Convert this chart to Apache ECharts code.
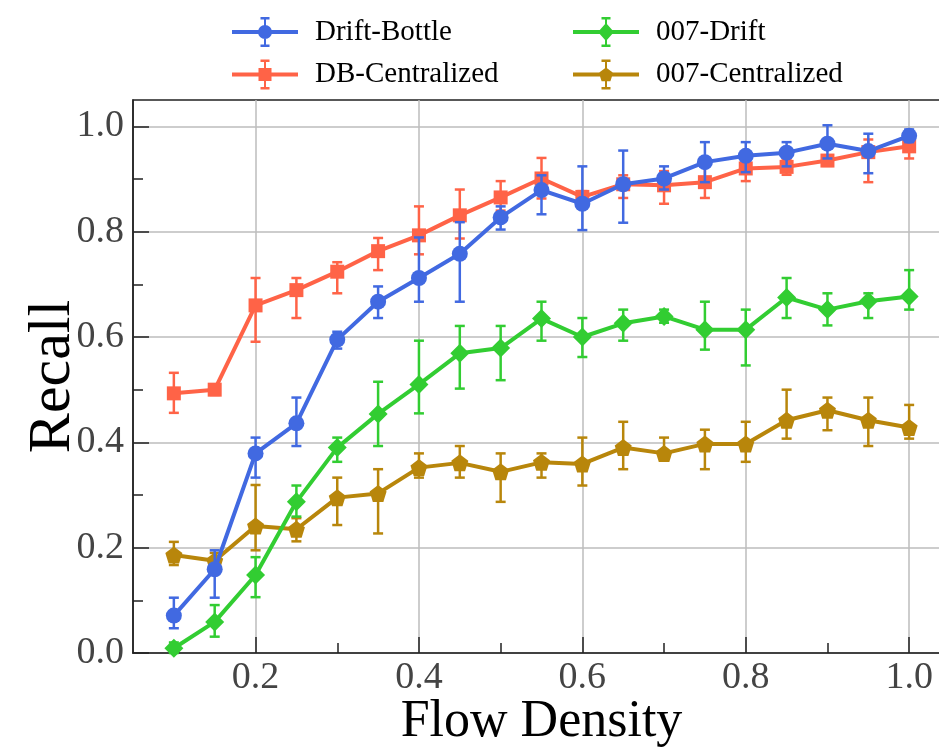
<!DOCTYPE html>
<html>
<head>
<meta charset="utf-8">
<script src="https://cdn.jsdelivr.net/npm/echarts@6/dist/echarts.min.js"></script>
<style>html,body{margin:0;padding:0;background:#fff;}#chart{width:939px;height:750px;}</style>
</head>
<body>
<div id="chart"></div>
<script>
// ---- data ----
const xs = [0.1,0.15,0.2,0.25,0.3,0.35,0.4,0.45,0.5,0.55,0.6,0.65,0.7,0.75,0.8,0.85,0.9,0.95,1.0];

const dbName = 'Drift-Bottle';
const dbVal  = [0.071,0.159,0.379,0.436,0.595,0.667,0.712,0.758,0.827,0.879,0.853,0.890,0.901,0.932,0.944,0.950,0.967,0.953,0.982];
const dbLow  = [0.047,0.105,0.333,0.393,0.578,0.636,0.667,0.667,0.804,0.833,0.803,0.817,0.880,0.894,0.913,0.924,0.939,0.911,0.970];
const dbHigh = [0.105,0.195,0.409,0.485,0.610,0.696,0.789,0.818,0.848,0.907,0.924,0.954,0.924,0.970,0.970,0.970,1.002,0.986,0.994];

const dbcName = 'DB-Centralized';
const dbcVal  = [0.493,0.500,0.660,0.689,0.724,0.763,0.793,0.831,0.865,0.901,0.866,0.890,0.888,0.894,0.920,0.923,0.935,0.951,0.962];
const dbcLow  = [0.456,0.490,0.591,0.636,0.683,0.727,0.757,0.787,0.840,0.863,0.855,0.864,0.853,0.864,0.896,0.908,0.925,0.894,0.939];
const dbcHigh = [0.532,0.510,0.712,0.712,0.742,0.788,0.848,0.880,0.896,0.940,0.877,0.907,0.915,0.925,0.944,0.938,0.945,0.975,0.985];

const odName = '007-Drift';
const odVal  = [0.009,0.059,0.148,0.287,0.390,0.454,0.510,0.569,0.579,0.635,0.600,0.626,0.639,0.614,0.614,0.675,0.652,0.668,0.677];
const odLow  = [0.000,0.031,0.106,0.259,0.363,0.393,0.455,0.502,0.518,0.593,0.562,0.593,0.627,0.576,0.546,0.636,0.622,0.636,0.652];
const odHigh = [0.020,0.091,0.182,0.318,0.409,0.515,0.593,0.621,0.621,0.667,0.636,0.652,0.652,0.667,0.652,0.712,0.683,0.683,0.727];

const ocName = '007-Centralized';
const ocVal  = [0.186,0.175,0.241,0.235,0.295,0.303,0.352,0.361,0.344,0.362,0.359,0.390,0.379,0.397,0.397,0.442,0.461,0.442,0.428];
const ocLow  = [0.167,0.160,0.195,0.212,0.243,0.227,0.333,0.333,0.287,0.333,0.318,0.349,0.365,0.349,0.363,0.407,0.423,0.393,0.407];
const ocHigh = [0.211,0.190,0.319,0.256,0.333,0.349,0.379,0.393,0.379,0.379,0.409,0.439,0.409,0.424,0.439,0.500,0.485,0.485,0.471];

const xMajorTicks = [0.2,0.4,0.6,0.8,1.0];
const xMinorTicks = [0.1,0.3,0.5,0.7,0.9];
const yMajorTicks = [0.0,0.2,0.4,0.6,0.8,1.0];
const yMinorTicks = [0.1,0.3,0.5,0.7,0.9];
const xTitle = 'Flow Density';
const yTitle = 'Recall';

// ---- styling ----
const FONT = '"Liberation Serif", "Times New Roman", serif';
const C_BLUE = '#4169E1', C_RED = '#FF6347', C_GREEN = '#32CD32', C_GOLD = '#B8860B';
const pentagon = 'path://M0,-1L0.9511,-0.309L0.5878,0.809L-0.5878,0.809L-0.9511,-0.309Z';

const iconBase = 'M0,13H66V17H0Z M32,1.5H34V28.5H32Z M28.5,0H37.5V2.5H28.5Z M28.5,27.5H37.5V30H28.5Z ';
const icons = {
  circle: 'path://' + iconBase + 'M40,15A7,7 0 1,1 26,15A7,7 0 1,1 40,15Z',
  square: 'path://' + iconBase + 'M26.5,8.5H39.5V21.5H26.5Z',
  diamond: 'path://' + iconBase + 'M33,6L41,15L33,24L25,15Z',
  pent: 'path://' + iconBase + 'M33,8L40.13,13.18L37.41,21.57L28.59,21.57L25.87,13.18Z'
};

function pairs(v){ return xs.map((x,i)=>[x, v[i]]); }
function triples(lo, hi){ return xs.map((x,i)=>[x, lo[i], hi[i]]); }

function errSeries(name, lo, hi, color, z){
  return {
    name: name + ' err', type: 'custom', z: z, silent: true,
    encode: { x: 0, y: [1, 2] },
    data: triples(lo, hi),
    renderItem: function(params, api){
      const x = api.value(0);
      const p1 = api.coord([x, api.value(1)]);
      const p2 = api.coord([x, api.value(2)]);
      const cw = 5;
      const st = { stroke: color, lineWidth: 2.5 };
      return { type: 'group', children: [
        { type: 'line', shape: { x1: p1[0], y1: p1[1], x2: p2[0], y2: p2[1] }, style: st },
        { type: 'line', shape: { x1: p1[0]-cw, y1: p1[1], x2: p1[0]+cw, y2: p1[1] }, style: st },
        { type: 'line', shape: { x1: p2[0]-cw, y1: p2[1], x2: p2[0]+cw, y2: p2[1] }, style: st }
      ]};
    }
  };
}
function lineSeries(name, vals, color, symbol, size, z){
  return {
    name: name, type: 'line', z: z, data: pairs(vals),
    symbol: symbol, symbolSize: size, showAllSymbol: true,
    lineStyle: { color: color, width: 4 },
    itemStyle: { color: color, borderWidth: 0 },
    animation: false
  };
}

const chart = echarts.init(document.getElementById('chart'), null, { renderer: 'canvas' });
const axisLineStyle = { color: '#222', width: 1.5 };
const legendText = { fontFamily: FONT, fontSize: 29, color: '#000', lineHeight: 30, padding: [0,0,0,12] };
chart.setOption({
  animation: false,
  backgroundColor: '#fff',
  grid: { left: 133, right: -11, top: 100, bottom: 97, show: true, borderColor: '#222', borderWidth: 1.5,
          containLabel: false, outerBoundsMode: 'none' },
  legend: [
    { left: 227, top: 12, orient: 'vertical', itemWidth: 66, itemHeight: 30, itemGap: 12.6,
      data: [ { name: dbName, icon: icons.circle }, { name: dbcName, icon: icons.square } ],
      textStyle: legendText },
    { left: 568, top: 12, orient: 'vertical', itemWidth: 66, itemHeight: 30, itemGap: 12.6,
      data: [ { name: odName, icon: icons.diamond }, { name: ocName, icon: icons.pent } ],
      textStyle: legendText }
  ],
  xAxis: [
    { type: 'value', min: 0.05, max: 1.05, position: 'bottom',
      name: xTitle, nameLocation: 'middle', nameGap: 43, nameMoveOverlap: false,
      nameTextStyle: { fontFamily: FONT, fontSize: 52, color: '#000' },
      axisLine: { show: true, lineStyle: axisLineStyle },
      axisTick: { show: true, inside: true, length: 16, customValues: xMajorTicks, lineStyle: axisLineStyle },
      axisLabel: { show: true, customValues: xMajorTicks, margin: 6, fontFamily: FONT, fontSize: 38, color: '#444',
        formatter: v => Number(v).toFixed(1) },
      splitLine: { show: true, lineStyle: { color: '#bcbcbc', width: 1.5 } }
    },
    { type: 'value', min: 0.05, max: 1.05, position: 'bottom', offset: 0,
      axisLine: { show: false },
      axisTick: { show: true, inside: true, length: 10, customValues: xMinorTicks, lineStyle: axisLineStyle },
      axisLabel: { show: false }, splitLine: { show: false }
    }
  ],
  yAxis: [
    { type: 'value', min: 0, max: 1.05, position: 'left',
      name: yTitle, nameLocation: 'middle', nameGap: 50, nameMoveOverlap: false,
      nameTextStyle: { fontFamily: FONT, fontSize: 60, color: '#000' },
      axisLine: { show: true, lineStyle: axisLineStyle },
      axisTick: { show: true, inside: true, length: 16, customValues: yMajorTicks, lineStyle: axisLineStyle },
      axisLabel: { show: true, customValues: yMajorTicks, margin: 9, fontFamily: FONT, fontSize: 38, color: '#444',
        formatter: v => Number(v).toFixed(1) },
      splitLine: { show: true, lineStyle: { color: '#bcbcbc', width: 1.5 } }
    },
    { type: 'value', min: 0, max: 1.05, position: 'left', offset: 0,
      axisLine: { show: false },
      axisTick: { show: true, inside: true, length: 10, customValues: yMinorTicks, lineStyle: axisLineStyle },
      axisLabel: { show: false }, splitLine: { show: false }
    }
  ],
  series: [
    errSeries(ocName, ocLow, ocHigh, C_GOLD, 2),
    lineSeries(ocName, ocVal, C_GOLD, pentagon, 17, 2),
    errSeries(dbcName, dbcLow, dbcHigh, C_RED, 3),
    lineSeries(dbcName, dbcVal, C_RED, 'rect', 14, 3),
    errSeries(odName, odLow, odHigh, C_GREEN, 4),
    lineSeries(odName, odVal, C_GREEN, 'diamond', 19, 4),
    errSeries(dbName, dbLow, dbHigh, C_BLUE, 5),
    lineSeries(dbName, dbVal, C_BLUE, 'circle', 16, 5)
  ]
});
</script>
</body>
</html>
